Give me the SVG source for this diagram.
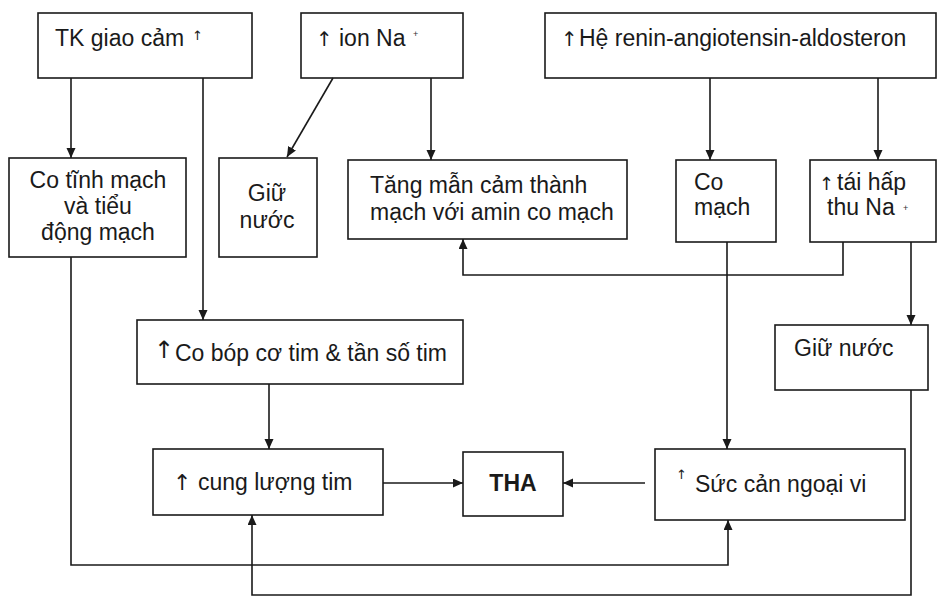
<svg xmlns="http://www.w3.org/2000/svg" width="938" height="604" viewBox="0 0 938 604">
<style>
.box{fill:#fff;stroke:#1a1a1a;stroke-width:1.6}
.t{font-family:"Liberation Sans",Arial,sans-serif;font-size:23px;fill:#1a1a1a}
.sup{font-family:"Liberation Sans",Arial,sans-serif;font-size:9px;fill:#333}
.c{text-anchor:middle}
.ln{fill:none;stroke:#1a1a1a;stroke-width:1.6}
.arr{font-family:"DejaVu Sans","Liberation Sans",sans-serif;fill:#1a1a1a}
</style>
<defs>
<marker id="ah" markerUnits="userSpaceOnUse" markerWidth="10" markerHeight="10" refX="10" refY="4.5" orient="auto">
<path d="M0,0 L10,4.5 L0,9 z" fill="#1a1a1a"/>
</marker>
</defs>
<rect width="938" height="604" fill="#fff"/>

<g id="tk">
<rect class="box" x="38" y="13" width="214" height="65"/>
<text class="t" x="55" y="46">TK giao cảm</text>
<text class="arr" x="192" y="40" font-size="13" fill="#777">↑</text>
</g>
<g id="ion">
<rect class="box" x="301" y="13" width="162" height="65"/>
<text class="arr" x="316" y="46" font-size="20">↑</text>
<text class="t" x="339" y="46">ion Na</text>
<text class="sup" x="413" y="37">+</text>
</g>
<g id="raa">
<rect class="box" x="545" y="13" width="391" height="65"/>
<text class="arr" x="561" y="46" font-size="20">↑</text>
<text class="t" x="579" y="46">Hệ renin-angiotensin-aldosteron</text>
</g>
<g id="cotinh">
<rect class="box" x="9" y="158" width="177" height="99"/>
<text class="t c" x="98" y="188">Co tĩnh mạch</text>
<text class="t c" x="98" y="214">và tiểu</text>
<text class="t c" x="98" y="240">động mạch</text>
</g>
<g id="giunuoc1">
<rect class="box" x="219" y="158" width="98" height="99"/>
<text class="t c" x="267" y="201">Giữ</text>
<text class="t c" x="267" y="228">nước</text>
</g>
<g id="tangman">
<rect class="box" x="348" y="160" width="279" height="79"/>
<text class="t" x="370" y="193">Tăng mẫn cảm  thành</text>
<text class="t" x="370" y="220">mạch với amin co mạch</text>
</g>
<g id="comach">
<rect class="box" x="676" y="160" width="100" height="82"/>
<text class="t" x="694" y="190">Co</text>
<text class="t" x="694" y="215">mạch</text>
</g>
<g id="taihap">
<rect class="box" x="810" y="160" width="126" height="82"/>
<text class="arr" x="819" y="190" font-size="18">↑</text>
<text class="t" x="837" y="190">tái hấp</text>
<text class="t" x="827" y="215">thu Na</text>
<text class="sup" x="903" y="211">+</text>
</g>
<g id="cobop">
<rect class="box" x="137" y="320" width="326" height="64"/>
<text class="arr" x="154" y="358" font-size="24">↑</text>
<text class="t" x="175" y="361">Co bóp cơ tim &amp; tần số tim</text>
</g>
<g id="giunuoc2">
<rect class="box" x="775" y="325" width="153" height="65"/>
<text class="t" x="794" y="356">Giữ nước</text>
</g>
<g id="cungluong">
<rect class="box" x="153" y="449" width="230" height="66"/>
<text class="arr" x="173" y="490" font-size="22">↑</text>
<text class="t" x="198" y="490">cung lượng tim</text>
</g>
<g id="tha">
<rect class="box" x="463" y="452" width="100" height="64"/>
<text class="t c" x="513" y="491" font-weight="bold">THA</text>
</g>
<g id="succan">
<rect class="box" x="655" y="449" width="250" height="71"/>
<text class="arr" x="676" y="479" font-size="13">↑</text>
<text class="t" x="695" y="492">Sức cản ngoại vi</text>
</g>

<g id="connectors">
<path class="ln" d="M71,78 V158" marker-end="url(#ah)"/>
<path class="ln" d="M203,78 V320" marker-end="url(#ah)"/>
<path class="ln" d="M333,78 L287,157" marker-end="url(#ah)"/>
<path class="ln" d="M431,78 V160" marker-end="url(#ah)"/>
<path class="ln" d="M710,78 V160" marker-end="url(#ah)"/>
<path class="ln" d="M878,78 V160" marker-end="url(#ah)"/>
<path class="ln" d="M843,242 V275 H463 V239" marker-end="url(#ah)"/>
<path class="ln" d="M727,242 V449" marker-end="url(#ah)"/>
<path class="ln" d="M911,242 V325" marker-end="url(#ah)"/>
<path class="ln" d="M269,384 V449" marker-end="url(#ah)"/>
<path class="ln" d="M383,483 H463" marker-end="url(#ah)"/>
<path class="ln" d="M645,483 H563" marker-end="url(#ah)"/>
<path class="ln" d="M71,257 V565 H728 V520" marker-end="url(#ah)"/>
<path class="ln" d="M911,390 V595 H252 V515" marker-end="url(#ah)"/>
</g>
</svg>
